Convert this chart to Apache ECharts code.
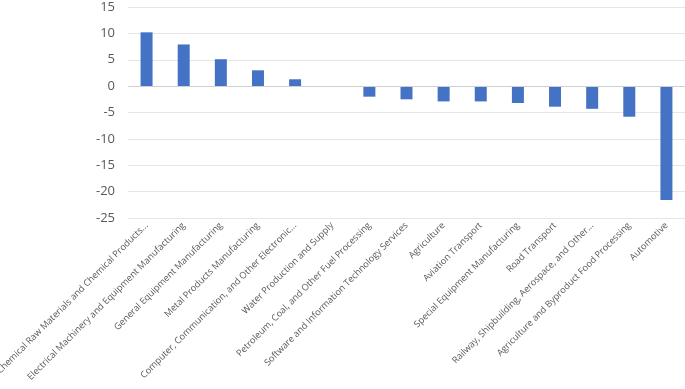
<!DOCTYPE html>
<html><head><meta charset="utf-8">
<script src="https://cdn.jsdelivr.net/npm/echarts@6/dist/echarts.min.js"></script>
<style>html,body{margin:0;padding:0;background:#fff}#c{width:685px;height:389px}</style>
</head><body><div id="c"></div>
<script>
var categories = [
  "Chemical Raw Materials and Chemical Products...",
  "Electrical Machinery and Equipment Manufacturing",
  "General Equipment Manufacturing",
  "Metal Products Manufacturing",
  "Computer, Communication, and Other Electronic...",
  "Water Production and Supply",
  "Petroleum, Coal, and Other Fuel Processing",
  "Software and Information Technology Services",
  "Agriculture",
  "Aviation Transport",
  "Special Equipment Manufacturing",
  "Road Transport",
  "Railway, Shipbuilding, Aerospace, and Other...",
  "Agriculture and Byproduct Food Processing",
  "Automotive"
];
var values = [10.2, 7.9, 5.1, 3.0, 1.3, 0, -2.0, -2.5, -2.9, -2.9, -3.2, -3.9, -4.3, -5.8, -21.6];
var yTicks = { min: -25, max: 15, interval: 5 };

var chart = echarts.init(document.getElementById('c'));
chart.setOption({
  animation: false,
  grid: { left: 128, right: 0, top: 7, bottom: 171, containLabel: false, outerBoundsMode: 'none' },
  xAxis: {
    type: 'category',
    data: categories,
    axisLine: { show: false, onZero: false },
    axisTick: { show: false },
    axisLabel: {
      rotate: 45, interval: 0, color: '#595959', fontSize: 9.2,
      fontFamily: 'Open Sans', margin: 6
    }
  },
  yAxis: {
    type: 'value', min: yTicks.min, max: yTicks.max, interval: yTicks.interval,
    axisLine: { show: false }, axisTick: { show: false },
    axisLabel: { color: '#595959', fontSize: 13, fontFamily: 'Open Sans', margin: 13 },
    splitLine: { lineStyle: { color: '#e6e6e6', width: 1 } }
  },
  series: [{
    type: 'bar', data: values, barWidth: 12,
    itemStyle: { color: '#4472C4' },
    markLine: {
      silent: true, symbol: 'none', label: { show: false },
      lineStyle: { color: '#d0d0d0', type: 'solid', width: 1 },
      data: [{ yAxis: 0 }]
    }
  }]
});
</script></body></html>
